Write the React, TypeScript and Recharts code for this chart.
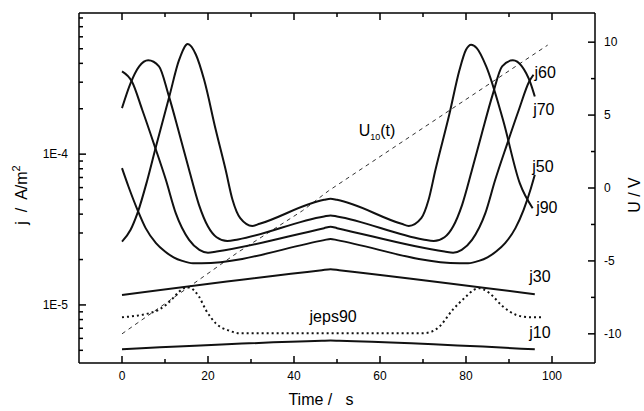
import React from 'react';
import { ComposedChart, Line, XAxis, YAxis, ReferenceDot } from 'recharts';

const FONT = '"Liberation Sans", Arial, Helvetica, sans-serif';

// ---- axis ticks ----
const timeTicks = [0, 10, 20, 30, 40, 50, 60, 70, 80, 90, 100];
const timeLabelTicks = [0, 20, 40, 60, 80, 100];
const jTicks = [
  5e-6, 6e-6, 7e-6, 8e-6, 9e-6, 1e-5, 2e-5, 3e-5, 4e-5, 5e-5, 6e-5, 7e-5, 8e-5, 9e-5,
  1e-4, 2e-4, 3e-4, 4e-4, 5e-4, 6e-4, 7e-4, 8e-4,
];
const jMajorTicks = [1e-5, 1e-4];
const jMajorLabels = ['1E-5', '1E-4'];
const uTicks = [-10, -7.5, -5, -2.5, 0, 2.5, 5, 7.5, 10];
const uLabelTicks = [-10, -5, 0, 5, 10];

// ---- series (time in s, current density in A/m^2, voltage in V) ----
const tJ90 = [0, 2, 3.6, 5.8, 7.9, 11, 13.3, 15.3, 17.2, 19.1, 21.8, 24.1, 25.7, 27.5, 30.3, 32, 47, 48.5, 50, 65, 66.7, 69.6, 71.3, 72.9, 76.1, 78.5, 80, 81.2, 82.5, 84.7, 88.6, 92.5, 95.5];
const jJ90 = [2.63e-5, 3.15e-5, 4.06e-5, 6.59e-5, 1.124e-4, 2.41e-4, 4.23e-4, 5.37e-4, 4.56e-4, 3.11e-4, 1.45e-4, 7.87e-5, 4.98e-5, 3.76e-5, 3.34e-5, 3.45e-5, 4.98e-5, 5.06e-5, 4.98e-5, 3.45e-5, 3.34e-5, 3.76e-5, 4.98e-5, 7.87e-5, 1.824e-4, 3.63e-4, 4.92e-4, 5.32e-4, 5.05e-4, 3.82e-4, 1.69e-4, 6.42e-5, 4.38e-5];

const tJ70 = [0, 2, 4, 6.1, 8.6, 10.8, 13.3, 15.6, 17.9, 20, 22, 24.5, 27, 47, 48.5, 50, 70, 72.5, 75, 77, 79.1, 81.4, 83.7, 86.2, 88.4, 90.9, 93, 95, 96];
const jJ70 = [2.02e-4, 2.96e-4, 3.82e-4, 4.19e-4, 3.82e-4, 2.48e-4, 1.377e-4, 7.87e-5, 4.61e-5, 3.31e-5, 2.81e-5, 2.65e-5, 2.72e-5, 3.86e-5, 3.92e-5, 3.86e-5, 2.72e-5, 2.65e-5, 2.81e-5, 3.31e-5, 4.61e-5, 7.87e-5, 1.377e-4, 2.48e-4, 3.82e-4, 4.19e-4, 3.82e-4, 2.96e-4, 2.41e-4];

const tJ60 = [0, 2.3, 4.7, 7.5, 10.2, 12.5, 15.6, 18, 20, 22, 47, 48.5, 50, 75, 77, 79, 81.4, 84.5, 86.8, 89.5, 92.3, 94.7, 95.7];
const jJ60 = [3.54e-4, 3.03e-4, 1.97e-4, 1.153e-4, 6.76e-5, 4.06e-5, 2.7e-5, 2.32e-5, 2.22e-5, 2.26e-5, 3.23e-5, 3.3e-5, 3.23e-5, 2.26e-5, 2.22e-5, 2.32e-5, 2.7e-5, 4.06e-5, 6.76e-5, 1.153e-4, 1.97e-4, 3.03e-4, 3.36e-4];

const tJ50 = [0, 1.5, 3.6, 5.5, 7.9, 10, 12, 14, 16.5, 18.5, 47, 48.5, 50, 78.5, 80.5, 83, 85, 87, 89.1, 91.5, 93.4, 95.1, 96];
const jJ50 = [8.07e-5, 6.1e-5, 4.27e-5, 3.23e-5, 2.57e-5, 2.26e-5, 2.07e-5, 1.96e-5, 1.89e-5, 1.89e-5, 2.69e-5, 2.74e-5, 2.69e-5, 1.89e-5, 1.89e-5, 1.96e-5, 2.07e-5, 2.26e-5, 2.57e-5, 3.23e-5, 4.27e-5, 5.94e-5, 7.29e-5];

const tJ30 = [0, 46.5, 48.5, 50.5, 96];
const jJ30 = [1.165e-5, 1.7e-5, 1.725e-5, 1.7e-5, 1.177e-5];

const tJ10 = [0, 46.5, 48.5, 50.5, 96];
const jJ10 = [5.08e-6, 5.78e-6, 5.8e-6, 5.78e-6, 5.08e-6];

const tJeps90 = [0, 3, 6.3, 8.5, 10.2, 12, 13.3, 14.8, 15.6, 16.8, 17.9, 19.5, 21.8, 24.9, 27.3, 69.9, 72, 73.8, 76.9, 80, 81.8, 83.1, 84.3, 85.5, 88.6, 91.7, 94.5, 97.5];
const jJeps90 = [8.28e-6, 8.45e-6, 8.81e-6, 9.27e-6, 1.0e-5, 1.119e-5, 1.226e-5, 1.303e-5, 1.306e-5, 1.245e-5, 1.136e-5, 9.27e-6, 7.55e-6, 6.76e-6, 6.49e-6, 6.49e-6, 6.65e-6, 7.18e-6, 9.27e-6, 1.136e-5, 1.259e-5, 1.29e-5, 1.259e-5, 1.195e-5, 9.75e-6, 8.58e-6, 8.3e-6, 8.28e-6];

const tU10 = [0, 15, 27, 42, 48, 99];
const vU10 = [-10, -6.9, -4.4, -1.55, -0.2, 9.8];

// ---- curve labels (anchored at data coordinates) ----
const labelNames = ['j60', 'j70', 'j50', 'j90', 'j30', 'j10', 'jeps90'];
const labelT = [98.4, 98.1, 97.9, 98.8, 97.2, 97.2, 49.1];
const labelJ = [3.47e-4, 1.97e-4, 8.27e-5, 4.4e-5, 1.54e-5, 6.52e-6, 8.36e-6];
const uLabelT = 59.3;
const uLabelV = 3.9;

const toPoints = (ts: number[], vs: number[]) => ts.map((t, i) => ({ t, v: vs[i] }));

const BottomTick = (props: any) => {
  const { x, y, payload } = props;
  const v = payload.value;
  const major = timeLabelTicks.includes(v);
  return (
    <g>
      <line x1={x} x2={x} y1={y} y2={y - (major ? 7 : 4)} stroke="#000" strokeWidth={1.5} />
      {major && (
        <text x={x} y={y + 17} textAnchor="middle" fontSize={12} fontFamily={FONT} fill="#000">
          {v}
        </text>
      )}
    </g>
  );
};

const TopTick = (props: any) => {
  const { x, y, payload } = props;
  const major = timeLabelTicks.includes(payload.value);
  return <line x1={x} x2={x} y1={y} y2={y + (major ? 7 : 4)} stroke="#000" strokeWidth={1.5} />;
};

const LeftTick = (props: any) => {
  const { x, y, payload } = props;
  const v = payload.value;
  const idx = jMajorTicks.findIndex((m) => Math.abs(m - v) / m < 1e-6);
  const major = idx >= 0;
  return (
    <g>
      <line x1={x} x2={x + (major ? 7 : 4)} y1={y} y2={y} stroke="#000" strokeWidth={1.5} />
      {major && (
        <text x={x - 11} y={y + 4} textAnchor="end" fontSize={12} fontFamily={FONT} fill="#000">
          {jMajorLabels[idx]}
        </text>
      )}
    </g>
  );
};

const RightTick = (props: any) => {
  const { x, y, payload } = props;
  const v = payload.value;
  const major = uLabelTicks.includes(v);
  return (
    <g>
      <line x1={x} x2={x - (major ? 7 : 4)} y1={y} y2={y} stroke="#000" strokeWidth={1.5} />
      {major && (
        <text x={x + 9} y={y + 4} textAnchor="start" fontSize={12} fontFamily={FONT} fill="#000">
          {v}
        </text>
      )}
    </g>
  );
};

const makeTextLabel = (text: string) => (p: any) => {
  const vb = p.viewBox || {};
  const cx = vb.x + (vb.width || 0) / 2;
  const cy = vb.y + (vb.height || 0) / 2;
  return (
    <text x={cx} y={cy + 5} textAnchor="middle" fontSize={16} fontFamily={FONT} fill="#000">
      {text}
    </text>
  );
};

const ULabel = (p: any) => {
  const vb = p.viewBox || {};
  const cx = vb.x + (vb.width || 0) / 2;
  const cy = vb.y + (vb.height || 0) / 2;
  return (
    <text x={cx} y={cy + 5} textAnchor="middle" fontSize={16} fontFamily={FONT} fill="#000">
      U<tspan fontSize={9} dy={4}>10</tspan>
      <tspan dy={-4}>(t)</tspan>
    </text>
  );
};

const lineProps = {
  type: 'monotone' as const,
  dataKey: 'v',
  dot: false,
  activeDot: false,
  isAnimationActive: false,
  stroke: '#111',
  strokeWidth: 2,
  xAxisId: 'b',
  yAxisId: 'j',
};

export default function App() {
  return (
    <div style={{ position: 'absolute', left: 0, top: 0, width: 644, height: 411, background: '#fff' }}>
      <ComposedChart width={644} height={411} margin={{ top: 12, right: 48, bottom: 47, left: 78 }}>
        <XAxis
          xAxisId="b"
          type="number"
          dataKey="t"
          domain={[-10, 110]}
          ticks={timeTicks}
          interval={0}
          height={1}
          tickSize={0}
          tickMargin={0}
          tick={<BottomTick />}
          axisLine={{ stroke: '#000', strokeWidth: 1.5 }}
          allowDataOverflow
        />
        <XAxis
          xAxisId="top"
          orientation="top"
          type="number"
          dataKey="t"
          domain={[-10, 110]}
          ticks={timeTicks}
          interval={0}
          height={1}
          tickSize={0}
          tickMargin={0}
          tick={<TopTick />}
          axisLine={{ stroke: '#000', strokeWidth: 1.5 }}
          allowDataOverflow
        />
        <YAxis
          yAxisId="j"
          type="number"
          scale="log"
          domain={[4.12e-6, 8.63e-4]}
          ticks={jTicks}
          interval={0}
          width={1}
          tickSize={0}
          tickMargin={0}
          tick={<LeftTick />}
          axisLine={{ stroke: '#000', strokeWidth: 1.5 }}
          allowDataOverflow
        />
        <YAxis
          yAxisId="u"
          orientation="right"
          type="number"
          domain={[-12, 12]}
          ticks={uTicks}
          interval={0}
          width={1}
          tickSize={0}
          tickMargin={0}
          tick={<RightTick />}
          axisLine={{ stroke: '#000', strokeWidth: 1.5 }}
          allowDataOverflow
        />

        <Line {...lineProps} data={toPoints(tU10, vU10)} yAxisId="u" type="linear" stroke="#333" strokeWidth={1} strokeDasharray="4 4" />
        <Line {...lineProps} data={toPoints(tJ90, jJ90)} />
        <Line {...lineProps} data={toPoints(tJ70, jJ70)} />
        <Line {...lineProps} data={toPoints(tJ60, jJ60)} />
        <Line {...lineProps} data={toPoints(tJ50, jJ50)} />
        <Line {...lineProps} data={toPoints(tJ30, jJ30)} />
        <Line {...lineProps} data={toPoints(tJ10, jJ10)} />
        <Line {...lineProps} data={toPoints(tJeps90, jJeps90)} strokeDasharray="2 3" />

        {labelNames.map((name, i) => (
          <ReferenceDot
            key={name}
            xAxisId="b"
            yAxisId="j"
            x={labelT[i]}
            y={labelJ[i]}
            r={1}
            fill="none"
            stroke="none"
            label={makeTextLabel(name)}
          />
        ))}
        <ReferenceDot xAxisId="b" yAxisId="u" x={uLabelT} y={uLabelV} r={1} fill="none" stroke="none" label={ULabel} />

        <text x={321} y={405} textAnchor="middle" fontSize={16} fontFamily={FONT} fill="#000" style={{ whiteSpace: 'pre' }}>
          {'Time /   s'}
        </text>
        <text x={27} y={195} textAnchor="middle" fontSize={16} fontFamily={FONT} fill="#000" transform="rotate(-90 27 195)" style={{ whiteSpace: 'pre' }}>
          {'j  /  A/m'}
          <tspan fontSize={11} dy={-7}>2</tspan>
        </text>
        <text x={640} y={195} textAnchor="middle" fontSize={16} fontFamily={FONT} fill="#000" transform="rotate(-90 640 195)" style={{ whiteSpace: 'pre' }}>
          {'U / V'}
        </text>
      </ComposedChart>
    </div>
  );
}
